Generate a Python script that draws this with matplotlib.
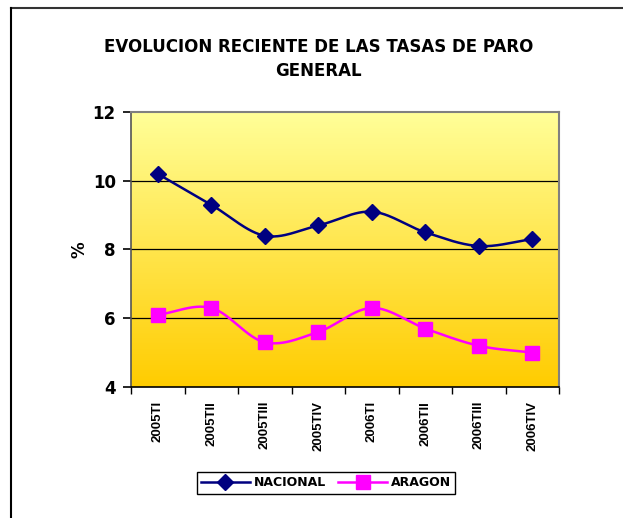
import numpy as np
import matplotlib
matplotlib.use("Agg")
import matplotlib.pyplot as plt
from matplotlib.lines import Line2D
from matplotlib.colors import LinearSegmentedColormap

plt.rcParams["font.family"] = ["DejaVu Sans"]
plt.rcParams["font.weight"] = "bold"

periods = ["2005TI", "2005TII", "2005TIII", "2005TIV",
           "2006TI", "2006TII", "2006TIII", "2006TIV"]
nacional = [10.2, 9.3, 8.4, 8.7, 9.1, 8.5, 8.1, 8.3]
aragon = [6.1, 6.3, 5.3, 5.6, 6.3, 5.7, 5.2, 5.0]

C_NAC = "#000080"
C_ARA = "#FF00FF"


def smooth(xs, ys, n=30):
    # Catmull-Rom through the points, like the spreadsheet "smoothed line"
    xs = np.asarray(xs, float); ys = np.asarray(ys, float)
    px = np.concatenate([[2 * xs[0] - xs[1]], xs, [2 * xs[-1] - xs[-2]]])
    py = np.concatenate([[2 * ys[0] - ys[1]], ys, [2 * ys[-1] - ys[-2]]])
    ox, oy = [], []
    t = np.linspace(0, 1, n)
    for i in range(1, len(px) - 2):
        for p, o in ((px, ox), (py, oy)):
            p0, p1, p2, p3 = p[i - 1], p[i], p[i + 1], p[i + 2]
            o.extend(0.5 * ((2 * p1) + (-p0 + p2) * t
                            + (2 * p0 - 5 * p1 + 4 * p2 - p3) * t ** 2
                            + (-p0 + 3 * p1 - 3 * p2 + p3) * t ** 3))
    return np.array(ox), np.array(oy)


fig = plt.figure(figsize=(6.23, 5.18), dpi=100)
ax = fig.add_axes([0.2103, 0.2529, 0.687, 0.5309])

x = np.arange(len(periods))
ax.set_xlim(-0.5, len(periods) - 0.5)
ax.set_ylim(4, 12)

# yellow gradient plot area
cmap = LinearSegmentedColormap.from_list("bg", ["#FFCC00", "#FFFF99"])
grad = np.linspace(0, 1, 256).reshape(-1, 1)
ax.imshow(grad, cmap=cmap, origin="lower", aspect="auto",
          extent=[0, 1, 0, 1], transform=ax.transAxes, zorder=0)

for yv in [6, 8, 10]:
    ax.axhline(yv, color="black", lw=0.9, zorder=1)

sx, sy = smooth(x, nacional)
ax.plot(sx, sy, color=C_NAC, lw=1.8, zorder=3)
ax.plot(x, nacional, "D", color=C_NAC, ms=8.5, zorder=4)
sx, sy = smooth(x, aragon)
ax.plot(sx, sy, color=C_ARA, lw=1.8, zorder=3)
ax.plot(x, aragon, "s", color=C_ARA, ms=10, zorder=4)

ax.set_yticks([4, 6, 8, 10, 12])
ax.set_yticklabels(["4", "6", "8", "10", "12"], fontsize=12, fontweight="bold")
ax.set_xticks(x)
ax.set_xticklabels(periods, rotation=90, fontsize=9.5, fontweight="bold",
                   family="Liberation Sans")
ax.set_xticks(np.arange(-0.5, len(periods)), minor=True)
ax.tick_params(axis="x", which="major", length=0, pad=10)
ax.tick_params(axis="x", which="minor", length=5, width=1, color="black")
ax.yaxis.set_tick_params(which="major", left=True, direction="out",
                         length=6, width=1.2, color="black", pad=5)
ax.set_ylabel("%", fontsize=12, fontweight="bold", labelpad=3)

for s in ["top", "right"]:
    ax.spines[s].set_color("#808080"); ax.spines[s].set_linewidth(1.5)
ax.spines["left"].set_color("#555555"); ax.spines["left"].set_linewidth(1.2)
ax.spines["bottom"].set_color("black"); ax.spines["bottom"].set_linewidth(1.2)

fig.text(0.511, 0.886, "EVOLUCION RECIENTE DE LAS TASAS DE PARO\nGENERAL",
         ha="center", va="center", fontsize=12, fontweight="bold",
         linespacing=1.45)

handles = [Line2D([], [], color=C_NAC, lw=1.8, marker="D", ms=8.5),
           Line2D([], [], color=C_ARA, lw=1.8, marker="s", ms=10)]
leg = fig.legend(handles, ["NACIONAL", "ARAGON"], loc="center",
                 bbox_to_anchor=(0.523, 0.0676), ncol=2, frameon=True,
                 fancybox=False, edgecolor="black", framealpha=1,
                 prop={"size": 9, "weight": "bold"}, handlelength=3.9,
                 columnspacing=1.0, handletextpad=0.3, borderpad=0.35)
leg.get_frame().set_linewidth(1.0)

# outer chart border (top and left edges visible)
fig.add_artist(Line2D([11 / 623, 1], [1 - 8 / 518] * 2, color="#333333",
                      lw=1.5, transform=fig.transFigure))
fig.add_artist(Line2D([11 / 623] * 2, [0, 1 - 8 / 518], color="black",
                      lw=1.5, transform=fig.transFigure))

fig.savefig("out.png", dpi=100)
